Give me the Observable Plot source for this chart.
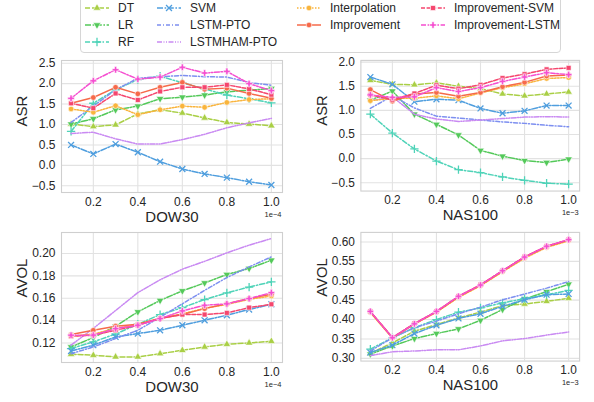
<!DOCTYPE html>
<html><head><meta charset="utf-8">
<script src="https://cdn.jsdelivr.net/npm/d3@7"></script>
<script src="https://cdn.jsdelivr.net/npm/@observablehq/plot@0.6"></script>
<style>
body{margin:0;background:#fff;font-family:"Liberation Sans",Arial,sans-serif;}
#root{position:relative;width:594px;height:402px;overflow:hidden;background:#fff;}
.panel{position:absolute;}
#legendBox{position:absolute;left:80px;top:-4px;width:481px;height:57px;border:1px solid #d6d6d6;border-radius:4px;box-sizing:border-box;}
.item{position:absolute;font-size:12px;color:#262626;white-space:nowrap;line-height:14px;}
.sw{position:absolute;}
</style></head><body><div id="root"><div id="legendBox"></div></div>
<script>
// ---- data ----
const xVals = [0.1, 0.2, 0.3, 0.4, 0.5, 0.6, 0.7, 0.8, 0.9, 1.0];
const seriesNames = ["DT", "LR", "RF", "SVM", "LSTM-PTO", "LSTMHAM-PTO", "Interpolation", "Improvement", "Improvement-SVM", "Improvement-LSTM"];
const seriesColors = ["#a9cf45", "#54c95a", "#4fd3b8", "#4f9ede", "#7d8ff0", "#c98af2", "#f9b43c", "#f66a4a", "#f5466e", "#f54ed0"];

// ASR, DOW30 (x in 1e-4)
const dowAsr = [
  [1.01, 0.95, 0.99, 1.26, 1.36, 1.28, 1.16, 1.05, 1.01, 0.97],
  [1.01, 1.14, 1.36, 1.45, 1.63, 1.67, 1.72, 1.80, 1.84, 1.88],
  [0.83, 1.52, 1.85, 2.10, 2.18, 2.02, 1.87, 1.72, 1.63, 1.53],
  [0.50, 0.28, 0.52, 0.32, 0.09, -0.09, -0.21, -0.30, -0.40, -0.48],
  [1.05, 1.45, 1.85, 2.13, 2.17, 2.20, 2.17, 2.16, 2.03, 1.96],
  [0.78, 0.81, 0.65, 0.52, 0.52, 0.63, 0.76, 0.92, 1.04, 1.15],
  [1.38, 1.30, 1.46, 1.24, 1.36, 1.45, 1.42, 1.54, 1.61, 1.63],
  [1.52, 1.66, 1.91, 1.75, 1.91, 2.03, 1.86, 1.89, 1.76, 1.64],
  [1.52, 1.40, 1.76, 1.60, 1.81, 1.91, 1.91, 1.97, 1.87, 1.73],
  [1.64, 2.07, 2.34, 2.11, 2.16, 2.40, 2.26, 2.30, 2.00, 1.83]
];
// ASR, NAS100 (x in 1e-3)
const nasAsr = [
  [1.62, 1.54, 1.53, 1.57, 1.50, 1.45, 1.34, 1.30, 1.34, 1.38],
  [1.21, 1.40, 0.92, 0.71, 0.49, 0.17, 0.05, -0.04, -0.08, -0.01],
  [0.92, 0.53, 0.20, -0.05, -0.23, -0.29, -0.38, -0.45, -0.51, -0.53],
  [1.69, 1.54, 1.18, 1.23, 1.21, 1.04, 0.94, 0.99, 1.10, 1.10],
  [1.04, 1.30, 1.05, 0.88, 0.84, 0.80, 0.76, 0.73, 0.69, 0.66],
  [1.20, 1.28, 0.92, 0.82, 0.77, 0.80, 0.83, 0.86, 0.87, 0.86],
  [1.20, 1.25, 1.25, 1.30, 1.24, 1.36, 1.47, 1.55, 1.66, 1.68],
  [1.43, 1.19, 1.34, 1.37, 1.29, 1.37, 1.49, 1.58, 1.71, 1.73],
  [1.32, 1.22, 1.35, 1.52, 1.45, 1.53, 1.67, 1.75, 1.85, 1.88],
  [1.32, 1.27, 1.28, 1.47, 1.39, 1.47, 1.60, 1.69, 1.78, 1.74]
];
// AVOL, DOW30
const dowAvol = [
  [0.1099, 0.1090, 0.1075, 0.1075, 0.1104, 0.1134, 0.1164, 0.1188, 0.1200, 0.1215],
  [0.1164, 0.1248, 0.1350, 0.1478, 0.1580, 0.1666, 0.1737, 0.1812, 0.1866, 0.1940],
  [0.1150, 0.1210, 0.1280, 0.1367, 0.1454, 0.1516, 0.1588, 0.1648, 0.1700, 0.1746],
  [0.1128, 0.1180, 0.1254, 0.1284, 0.1313, 0.1358, 0.1403, 0.1448, 0.1499, 0.1546],
  [0.1104, 0.1164, 0.1239, 0.1313, 0.1430, 0.1550, 0.1670, 0.1785, 0.1880, 0.1970],
  [0.1180, 0.1330, 0.1490, 0.1650, 0.1765, 0.1860, 0.1930, 0.2006, 0.2075, 0.2134],
  [0.1260, 0.1280, 0.1330, 0.1365, 0.1420, 0.1460, 0.1510, 0.1545, 0.1590, 0.1620],
  [0.1275, 0.1313, 0.1350, 0.1367, 0.1420, 0.1454, 0.1507, 0.1550, 0.1597, 0.1636],
  [0.1260, 0.1270, 0.1313, 0.1358, 0.1418, 0.1454, 0.1454, 0.1469, 0.1516, 0.1546],
  [0.1269, 0.1270, 0.1328, 0.1358, 0.1418, 0.1487, 0.1537, 0.1550, 0.1597, 0.1650]
];
// AVOL, NAS100
const nasAvol = [
  [0.313, 0.340, 0.370, 0.387, 0.404, 0.419, 0.436, 0.440, 0.447, 0.455],
  [0.311, 0.332, 0.351, 0.364, 0.376, 0.398, 0.426, 0.453, 0.472, 0.491],
  [0.324, 0.353, 0.379, 0.400, 0.419, 0.430, 0.443, 0.454, 0.464, 0.475],
  [0.315, 0.334, 0.364, 0.385, 0.403, 0.415, 0.434, 0.451, 0.464, 0.466],
  [0.319, 0.353, 0.379, 0.396, 0.415, 0.432, 0.451, 0.466, 0.481, 0.498],
  [0.307, 0.317, 0.319, 0.322, 0.322, 0.332, 0.345, 0.351, 0.360, 0.368],
  [0.418, 0.352, 0.388, 0.419, 0.457, 0.487, 0.523, 0.558, 0.586, 0.603],
  [0.420, 0.353, 0.389, 0.420, 0.459, 0.489, 0.525, 0.561, 0.588, 0.605],
  [0.421, 0.354, 0.390, 0.421, 0.460, 0.490, 0.526, 0.562, 0.589, 0.606],
  [0.421, 0.353, 0.389, 0.421, 0.460, 0.489, 0.526, 0.561, 0.589, 0.606]
];
const xTicks = [0.2, 0.4, 0.6, 0.8, 1.0];
const asrDowTicks = [-0.5, 0.0, 0.5, 1.0, 1.5, 2.0, 2.5];
const asrNasTicks = [-0.5, 0.0, 0.5, 1.0, 1.5, 2.0];
const avolDowTicks = [0.12, 0.14, 0.16, 0.18, 0.20];
const avolNasTicks = [0.30, 0.35, 0.40, 0.45, 0.50, 0.55, 0.60];

// ---- styles ----
const triDown = {draw(ctx, size) {
  const y = -Math.sqrt(size / (Math.sqrt(3) * 3)), s3 = Math.sqrt(3);
  ctx.moveTo(0, -y * 2); ctx.lineTo(-s3 * y, y); ctx.lineTo(s3 * y, y); ctx.closePath();
}};
const dashes = ["5,2", "6,1.6,1.6,1.6", "5,2,1.5,2", "6,1.6,1.6,1.6", "4,2,1,2", "5,1.5,1,1.5,1,1.5", "1.5,1.5", null, "4,1.6", "5,1.6,1.6,1.6"];
// marker: [d3 symbol, filled?]
const markers = [
  [d3.symbolTriangle, true], [triDown, true], [d3.symbolPlus, false], [d3.symbolTimes, false],
  null, null, [d3.symbolCircle, true], [d3.symbolCircle, true], [d3.symbolSquare, true], [d3.symbolCross, true]
];

const FONT = "'Liberation Sans', Arial, sans-serif";
const xDomain = [0.057, 1.05];

function panel(values, opts) {
  const marks = [
    Plot.ruleX(xTicks, {stroke: "#e2e2e2", strokeWidth: 1.1}),
    Plot.ruleY(opts.yTicks, {stroke: "#e2e2e2", strokeWidth: 1.1}),
    Plot.frame({stroke: "#cfcfcf", strokeWidth: 1.1})
  ];
  seriesNames.forEach((name, i) => {
    const rows = xVals.map((x, j) => ({x, y: values[i][j], s: name}));
    marks.push(Plot.line(rows, {x: "x", y: "y", stroke: seriesColors[i], strokeWidth: 1.5,
      strokeDasharray: dashes[i] || undefined}));
    const m = markers[i];
    if (m) {
      marks.push(Plot.dot(rows, m[1]
        ? {x: "x", y: "y", symbol: () => m[0], r: 2.8, fill: seriesColors[i], stroke: "white", strokeWidth: 0.6}
        : {x: "x", y: "y", symbol: () => m[0], r: 2.8, fill: "none", stroke: seriesColors[i], strokeWidth: 1.3}));
    }
  });
  marks.push(Plot.text([opts.xlabel], {frameAnchor: "bottom", dy: 29, fontSize: 15, fill: "#262626"}));
  marks.push(Plot.text([opts.ylabel], {frameAnchor: "left", rotate: -90, dx: -39, fontSize: 15, fill: "#262626"}));
  marks.push(Plot.text([opts.exp], {frameAnchor: "bottom-right", textAnchor: "end", dx: -1, dy: 24.5, fontSize: 7.5, fill: "#262626"}));
  const svg = Plot.plot({
    width: 297, height: 180, marginLeft: 61, marginRight: 15, marginTop: 10, marginBottom: opts.mb,
    style: {fontFamily: FONT, fontSize: "12px", color: "#262626", background: "transparent", overflow: "visible"},
    x: {domain: xDomain, ticks: xTicks, tickFormat: ".1f", tickSize: 0, tickPadding: 5, label: null},
    y: {domain: opts.yDomain, ticks: opts.yTicks, tickFormat: opts.fmt, tickSize: 0, tickPadding: 6, label: null},
    symbol: {type: "identity"},
    marks
  });
  const wrap = document.createElement("div");
  wrap.className = "panel";
  wrap.style.left = opts.left + "px";
  wrap.style.top = opts.top + "px";
  wrap.appendChild(svg);
  document.getElementById("root").appendChild(wrap);
}

panel(dowAsr, {left: 0, top: 50, mb: 38, yDomain: [-0.664, 2.566], yTicks: asrDowTicks, fmt: ".1f", xlabel: "DOW30", ylabel: "ASR", exp: "1e\u22124"});
panel(nasAsr, {left: 300, top: 50, mb: 38, yDomain: [-0.672, 2.035], yTicks: asrNasTicks, fmt: ".1f", xlabel: "NAS100", ylabel: "ASR", exp: "1e\u22123"});
panel(dowAvol, {left: 0, top: 222, mb: 40, yDomain: [0.1025, 0.2188], yTicks: avolDowTicks, fmt: ".2f", xlabel: "DOW30", ylabel: "AVOL", exp: "1e\u22124"});
panel(nasAvol, {left: 300, top: 222, mb: 40, yDomain: [0.293, 0.6247], yTicks: avolNasTicks, fmt: ".2f", xlabel: "NAS100", ylabel: "AVOL", exp: "1e\u22123"});

// ---- legend ----
const colX = [85, 157, 297, 421];
const colStart = [0, 3, 6, 8];
const rowY = [8, 25, 42];
const root = document.getElementById("root");
seriesNames.forEach((name, i) => {
  const col = i < 3 ? 0 : i < 6 ? 1 : i < 8 ? 2 : 3;
  const row = i - colStart[col];
  const cx = colX[col], cy = rowY[row];
  const ns = "http://www.w3.org/2000/svg";
  const sw = document.createElementNS(ns, "svg");
  sw.setAttribute("width", 24); sw.setAttribute("height", 10);
  sw.setAttribute("class", "sw");
  sw.style.left = cx + "px"; sw.style.top = (cy - 5) + "px";
  const ln = document.createElementNS(ns, "line");
  ln.setAttribute("x1", 0); ln.setAttribute("x2", 24); ln.setAttribute("y1", 5); ln.setAttribute("y2", 5);
  ln.setAttribute("stroke", seriesColors[i]); ln.setAttribute("stroke-width", 1.5);
  if (dashes[i]) ln.setAttribute("stroke-dasharray", dashes[i]);
  sw.appendChild(ln);
  const m = markers[i];
  if (m) {
    const p = document.createElementNS(ns, "path");
    p.setAttribute("d", d3.symbol(m[0], Math.PI * 2.8 * 2.8)());
    p.setAttribute("transform", "translate(12,5)");
    if (m[1]) { p.setAttribute("fill", seriesColors[i]); p.setAttribute("stroke", "white"); p.setAttribute("stroke-width", 0.6); }
    else { p.setAttribute("fill", "none"); p.setAttribute("stroke", seriesColors[i]); p.setAttribute("stroke-width", 1.3); }
    sw.appendChild(p);
  }
  root.appendChild(sw);
  const t = document.createElement("div");
  t.className = "item";
  t.textContent = name;
  t.style.left = (cx + 33) + "px";
  t.style.top = (cy - 7) + "px";
  root.appendChild(t);
});
</script></body></html>
